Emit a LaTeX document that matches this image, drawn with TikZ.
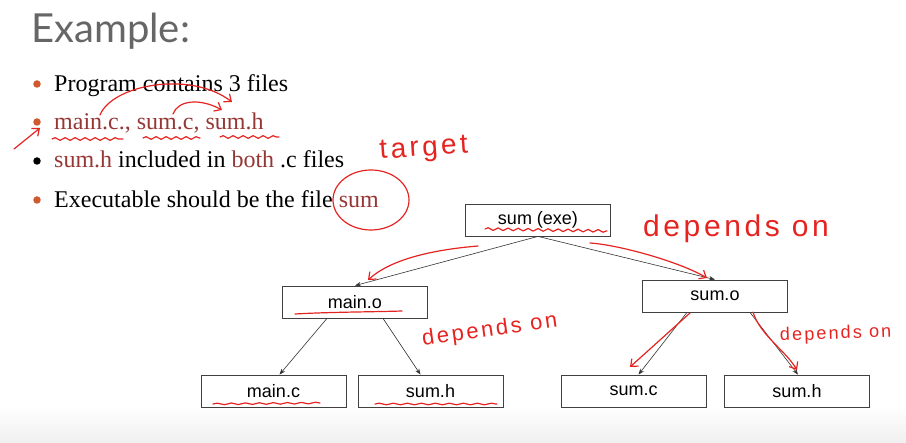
\documentclass[tikz,border=0pt]{standalone}
\usepackage{fontspec}
\setmainfont{Liberation Serif}
\setsansfont{Liberation Sans}
\newfontfamily\titlefont{Lato}
\newfontfamily\handfont[LetterSpace=12]{Liberation Sans}
\usetikzlibrary{arrows.meta,decorations.pathmorphing}
\definecolor{slidered}{HTML}{953735}
\definecolor{bulletorange}{HTML}{D0592E}
\definecolor{inkred}{HTML}{E52421}
\definecolor{titlegray}{HTML}{666666}

\begin{document}
\begin{tikzpicture}[x=1pt,y=-1pt,
  font=\fontsize{24}{28}\selectfont,
  item/.style={anchor=base west,inner sep=0pt},
  dot/.style={circle,fill=bulletorange,inner sep=0pt,minimum size=7.5pt},
  file/.style={draw=black!75,line width=0.8pt,minimum width=145pt,minimum height=32pt,
               inner sep=0pt,font=\sffamily\fontsize{18}{20}\selectfont},
  arr/.style={-{Stealth[length=6pt,width=4.5pt]},black!80,line width=0.6pt},
  ink/.style={inkred,line width=1.2pt,line cap=round,line join=round},
  inkarr/.style={ink,-{Straight Barb[length=6pt,width=10pt]}},
  wavy/.style={ink,decorate,decoration={snake,amplitude=1.3pt,segment length=10pt}},
  hand/.style={inkred,inner sep=0pt,anchor=base west,font=\handfont\fontsize{#1}{#1}\selectfont}
]
\useasboundingbox (0,0) rectangle (906,443);
\shade[top color=white,bottom color=black!6] (0,405) rectangle (906,443);
% --- title and bullets ---
\node[anchor=base west,inner sep=0pt,text=titlegray,
      font=\titlefont\fontsize{40}{42}\selectfont] (title) at (31,43) {Example:};
\node[dot] (d1) at (37,84) {};
\node[item] (l1) at (54,92) {Program contains 3 files};
\node[dot] (d2) at (37,122) {};
\node[item,text=slidered] (l2) at (54,130) {main.c., sum.c, sum.h};
\node[dot,fill=black] (d3) at (37,161) {};
\node[item] (l3) at (54,168) {\textcolor{slidered}{sum.h} included in \textcolor{slidered}{both} .c files};
\node[dot] (d4) at (37,200) {};
\node[item] (l4) at (54,208) {Executable should be the file \textcolor{slidered}{sum}};
% --- dependency tree ---
\node[file] (exe) at (538,220) {sum (exe)};
\node[file] (mo) at (355,302) {main.o};
\node[file] (so) at (715,296) {sum.o};
\node[file] (mc) at (273.5,391) {main.c};
\node[file] (mh) at (430.5,391) {sum.h};
\node[file] (sc) at (633.5,391) {sum.c};
\node[file] (sh) at (797,391) {sum.h};
\foreach \t in {mo,so}
  \draw[arr] (exe.south) -- (\t.north);
\draw[arr] ([xshift=-28pt]mo.south) -- ([xshift=6pt]mc.north);
\draw[arr] ([xshift=28pt]mo.south) -- ([xshift=-10pt]mh.north);
\draw[arr] ([xshift=-28pt]so.south) -- ([xshift=5pt]sc.north);
\draw[arr] ([xshift=35pt]so.south) -- ([xshift=1pt]sh.north);
% --- red pen notes ---
\draw[wavy] (52,139) -- (123,139);
\draw[wavy] (143,138) -- (200,138);
\draw[wavy] (220,137) -- (279,137);
\draw[inkarr] (14,149) -- (40,128);
\draw[inkarr] (100,115) .. controls (112,85) and (190,70) .. (232,102);
\draw[inkarr] (173,114) .. controls (178,100) and (200,98) .. (222,110);
\node[hand=28,rotate=4] (tgt) at (380,159) {target};
\draw[ink] (371,200) ellipse [x radius=38pt,y radius=30pt];
\draw[wavy] (485,229) -- (607,231);
\node[hand=30] (dep1) at (643,237) {depends on};
\draw[inkarr] (478,246) .. controls (430,250) and (390,260) .. (368,280);
\draw[inkarr] (590,243) .. controls (620,245) and (680,262) .. (707,278);
\draw[ink] (295,314) .. controls (330,312) and (370,312) .. (402,311);
\node[hand=22,rotate=8] (dep2) at (423,346) {depends on};
\draw[wavy,decoration={snake,amplitude=0.8pt,segment length=14pt}] (213,404) -- (320,403);
\draw[wavy,decoration={snake,amplitude=0.8pt,segment length=14pt}] (375,404) -- (497,404);
\draw[inkarr] (690,313) -- (630,367);
\draw[inkarr] (753,312) .. controls (760,335) and (785,350) .. (797,370);
\node[hand=18,rotate=2] (dep3) at (780,341) {depends on};
\end{tikzpicture}
\end{document}
